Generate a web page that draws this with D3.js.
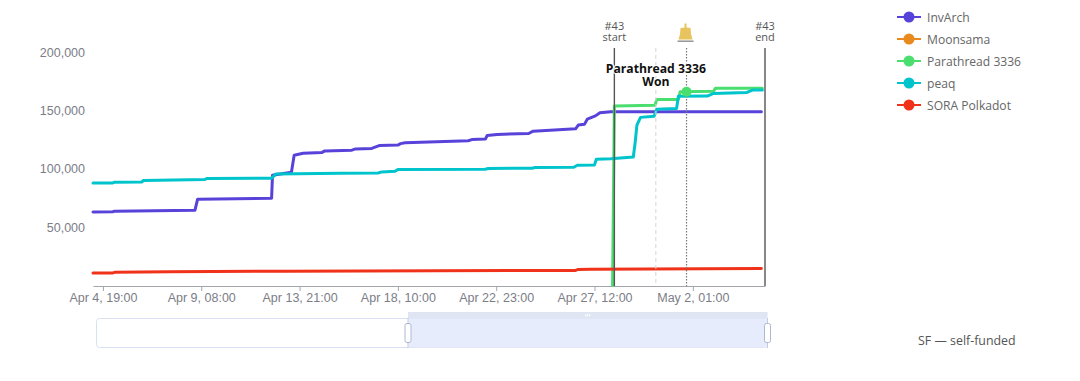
<!DOCTYPE html>
<html>
<head>
<meta charset="utf-8">
<script src="https://cdn.jsdelivr.net/npm/d3@7"></script>
<style>
  html, body { margin: 0; padding: 0; background: #fff; }
  svg { display: block; font-family: "Open Sans", sans-serif; }
</style>
</head>
<body>
<div id="chart"></div>
<script>
const WIDTH = 1080;
const HEIGHT = 381;
const PLOT = { left: 93, right: 765, top: 52, bottom: 285.5 };

// all times are hours after the start of the visible window
const START = Date.UTC(2024, 3, 4, 8);
const END_HOUR = 745;

const invArchHours = [0, 22, 24, 113, 116, 198, 199, 220, 223, 233, 254, 257, 287, 291, 309, 318, 338, 341, 346, 416, 420, 435, 437, 448, 483, 488, 535, 538, 545, 548, 557, 562, 574, 741];
const invArchValues = [63000, 63200, 63700, 64400, 73900, 74700, 94500, 97000, 111600, 113300, 114000, 115300, 115900, 117000, 117400, 120000, 120300, 121500, 122200, 124000, 125000, 125400, 128500, 129400, 130200, 132200, 134200, 137400, 138200, 142500, 145300, 148000, 148800, 148900];

const parathreadHours = [576, 578, 623, 625, 649, 651, 688, 690, 742];
const parathreadValues = [0, 153700, 154300, 159400, 159400, 166000, 166300, 168900, 168900];

const peaqHours = [0, 22, 24, 54, 56, 124, 126, 198, 203, 274, 316, 320, 335, 338, 435, 438, 487, 490, 533, 537, 556, 558, 574, 599, 601, 603, 607, 622, 625, 647, 649, 681, 688, 725, 731, 742];
const peaqValues = [87900, 87900, 88500, 88700, 89900, 90800, 91600, 91900, 95600, 96200, 96400, 97300, 97900, 99300, 99600, 100200, 100500, 101000, 101300, 103000, 103300, 108200, 108500, 110100, 122000, 137400, 144000, 145000, 151000, 151700, 162200, 162300, 164500, 165400, 167400, 167400];

const soraHours = [0, 22, 24, 85, 215, 535, 538, 552, 741];
const soraValues = [10600, 10800, 11300, 11800, 12300, 12900, 13800, 14000, 14600];

const seriesNames = ["InvArch", "Moonsama", "Parathread 3336", "peaq", "SORA Polkadot"];
const seriesColors = ["#5743d9", "#e98a1f", "#4ade6f", "#00c4cc", "#f0321a"];
const seriesHours = [invArchHours, [], parathreadHours, peaqHours, soraHours];
const seriesValues = [invArchValues, [], parathreadValues, peaqValues, soraValues];

const yTicks = [50000, 100000, 150000, 200000];
const xTickHours = [11, 120, 229, 338, 447, 556, 665];

const startHour = 578;
const wonHour = 624;
const bellHour = 658;
const endHour = 745;
const wonMarkerValue = 166000;

const hourToDate = (h) => new Date(START + h * 3600000);

const x = d3.scaleUtc()
  .domain([hourToDate(0), hourToDate(END_HOUR)])
  .range([PLOT.left, PLOT.right]);
const y = d3.scaleLinear()
  .domain([0, 200000])
  .range([PLOT.bottom, PLOT.top]);

const svg = d3.select("#chart").append("svg")
  .attr("width", WIDTH)
  .attr("height", HEIGHT)
  .attr("viewBox", `0 0 ${WIDTH} ${HEIGHT}`);

// axes
const xAxis = svg.append("g")
  .attr("transform", `translate(0,${PLOT.bottom + 0.5})`)
  .call(d3.axisBottom(x)
    .tickValues(xTickHours.map(hourToDate))
    .tickFormat(d3.utcFormat("%b %-d, %H:%M"))
    .tickSize(5)
    .tickSizeOuter(0));
xAxis.select(".domain").attr("stroke", "#a3a5ae").attr("stroke-width", 1.2);
xAxis.selectAll(".tick line").attr("stroke", "#a3a5ae");
xAxis.selectAll("text").attr("fill", "#7b7d87").attr("font-size", 12.5).attr("y", 7);

const yAxis = svg.append("g")
  .attr("transform", `translate(${PLOT.left},0)`)
  .call(d3.axisLeft(y)
    .tickValues(yTicks)
    .tickFormat(d3.format(","))
    .tickSize(0)
    .tickPadding(8));
yAxis.select(".domain").remove();
yAxis.selectAll("text").attr("fill", "#7b7d87").attr("font-size", 12.5);

// lines
const line = d3.line()
  .x((d) => x(hourToDate(d[0])))
  .y((d) => y(d[1]));

seriesNames.forEach((name, i) => {
  const points = d3.zip(seriesHours[i], seriesValues[i]);
  if (!points.length) return;
  svg.append("path")
    .attr("d", line(points))
    .attr("fill", "none")
    .attr("stroke", seriesColors[i])
    .attr("stroke-width", 3)
    .attr("stroke-linejoin", "round")
    .attr("stroke-linecap", "round");
});

// auction marks
const MARK_TOP = 48;
function markLine(hour, color, width, dash) {
  svg.append("line")
    .attr("x1", x(hourToDate(hour)))
    .attr("x2", x(hourToDate(hour)))
    .attr("y1", MARK_TOP)
    .attr("y2", PLOT.bottom + 0.5)
    .attr("stroke", color)
    .attr("stroke-width", width)
    .attr("stroke-dasharray", dash);
}
markLine(startHour, "#555", 1.4, null);
markLine(endHour, "#555", 1.4, null);
markLine(wonHour, "#d5d5d5", 1, "4 3");
markLine(bellHour, "#777", 1.2, "1.5 1.5");

function markLabel(hour, lines) {
  const t = svg.append("text")
    .attr("text-anchor", "middle")
    .attr("fill", "#555")
    .attr("font-size", 11);
  lines.forEach((s, i) => {
    t.append("tspan").attr("x", x(hourToDate(hour))).attr("y", 29.5 + i * 11.5).text(s);
  });
}
markLabel(startHour, ["#43", "start"]);
markLabel(endHour, ["#43", "end"]);

// bell
const bell = svg.append("g")
  .attr("transform", `translate(${x(hourToDate(bellHour)) - 1},0)`);
bell.append("path")
  .attr("d", "M-1,23.5 L1,23.5 L1,27.5 L5,28 L5.5,34 L7,39.5 L-7,39.5 L-5.5,34 L-5,28 L-1,27.5 Z")
  .attr("fill", "#e8c45f");
bell.append("rect")
  .attr("x", -8).attr("y", 40.5).attr("width", 16).attr("height", 1.4)
  .attr("fill", "#8d8d8d");

// winner point and label
svg.append("circle")
  .attr("cx", x(hourToDate(bellHour)))
  .attr("cy", y(wonMarkerValue))
  .attr("r", 5)
  .attr("fill", seriesColors[2]);

const wonLabel = svg.append("text")
  .attr("text-anchor", "middle")
  .attr("fill", "#111")
  .attr("font-size", 12.2)
  .attr("font-weight", 700)
  .attr("stroke", "#fff")
  .attr("stroke-width", 2)
  .attr("paint-order", "stroke");
["Parathread 3336", "Won"].forEach((s, i) => {
  wonLabel.append("tspan")
    .attr("x", x(hourToDate(wonHour)))
    .attr("y", 73 + i * 13)
    .text(s);
});

// legend
const legend = svg.append("g");
seriesNames.forEach((name, i) => {
  const ly = 17 + i * 22;
  legend.append("line")
    .attr("x1", 897).attr("x2", 921).attr("y1", ly).attr("y2", ly)
    .attr("stroke", seriesColors[i]).attr("stroke-width", 2);
  legend.append("circle")
    .attr("cx", 909).attr("cy", ly).attr("r", 5.5)
    .attr("fill", seriesColors[i]);
  legend.append("text")
    .attr("x", 927).attr("y", ly + 4.5)
    .attr("fill", "#666")
    .attr("font-size", 12.1)
    .text(name);
});

svg.append("text")
  .attr("x", 918).attr("y", 345)
  .attr("fill", "#555")
  .attr("font-size", 12.4)
  .text("SF \u2014 self-funded");

// range slider
const SLIDER = { left: 96.5, right: 767.5, top: 318.5, bottom: 347.5, from: 408 };
svg.append("rect")
  .attr("x", SLIDER.left).attr("y", SLIDER.top)
  .attr("width", SLIDER.right - SLIDER.left).attr("height", SLIDER.bottom - SLIDER.top)
  .attr("rx", 3)
  .attr("fill", "#fff").attr("stroke", "#d8e1f3");
svg.append("rect")
  .attr("x", SLIDER.from).attr("y", SLIDER.top)
  .attr("width", SLIDER.right - SLIDER.from).attr("height", SLIDER.bottom - SLIDER.top)
  .attr("fill", "#e6ecfb");
svg.append("rect")
  .attr("x", SLIDER.from).attr("y", 312)
  .attr("width", SLIDER.right - SLIDER.from).attr("height", 6.5)
  .attr("fill", "#dfe5f3");
[-2, 0, 2].forEach((o) => {
  svg.append("line")
    .attr("x1", (SLIDER.from + SLIDER.right) / 2 + o).attr("x2", (SLIDER.from + SLIDER.right) / 2 + o)
    .attr("y1", 314).attr("y2", 316.5)
    .attr("stroke", "#fff");
});
[SLIDER.from, SLIDER.right].forEach((hx) => {
  svg.append("line")
    .attr("x1", hx).attr("x2", hx).attr("y1", 318).attr("y2", 348)
    .attr("stroke", "#c3cde2");
  svg.append("rect")
    .attr("x", hx - 3).attr("y", 323.5).attr("width", 6).attr("height", 19)
    .attr("rx", 2)
    .attr("fill", "#fff").attr("stroke", "#acb8d1");
});
</script>
</body>
</html>
